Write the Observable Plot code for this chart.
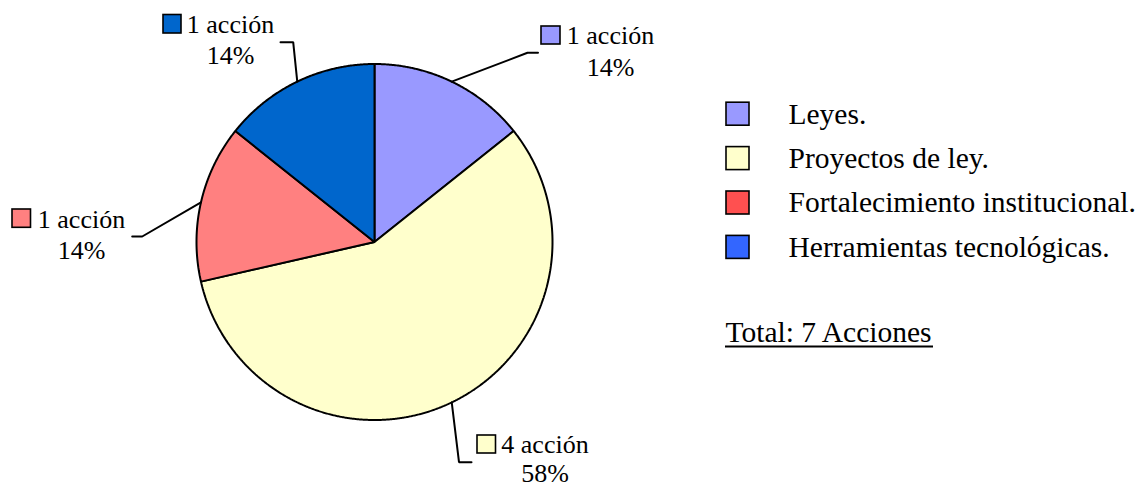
<!DOCTYPE html>
<html>
<head>
<meta charset="utf-8">
<script src="https://cdn.jsdelivr.net/npm/d3@7"></script>
<script src="https://cdn.jsdelivr.net/npm/@observablehq/plot@0.6"></script>
<style>
  html, body { margin: 0; padding: 0; background: #fff; }
  #chart { width: 1136px; height: 488px; }
</style>
</head>
<body>
<div id="chart"></div>
<script>
// ---- data ----
const categories = ["Leyes.", "Proyectos de ley.", "Fortalecimiento institucional.", "Herramientas tecnológicas."];
const values = [1, 4, 1, 1];
const countLabels = ["1 acción", "4 acción", "1 acción", "1 acción"];
const percentLabels = ["14%", "58%", "14%", "14%"];
const sliceColors = ["#9999FF", "#FFFFCC", "#FF8080", "#0066CC"];
const legendColors = ["#9999FF", "#FFFFCC", "#FF5050", "#3366FF"];
const totalLabel = "Total: 7 Acciones";

// ---- layout ----
const W = 1136, H = 488;
const cx = 374, cy = 241.5, R = 178;
const serif = "'Liberation Serif', 'Times New Roman', serif";
// per-slice label layout: text centre x, first baseline, square box, leader elbow & end
const labelLayout = [
  {tx: 610, ty: 43.5, sq: [541, 26, 560, 44], elbow: [527, 52.3], end: [537.5, 52.3]},
  {tx: 544.5, ty: 452.2, sq: [477, 435, 495.5, 453], elbow: [458.5, 461.7], end: [471, 461.7]},
  {tx: 81, ty: 227.3, sq: [12, 209, 30.5, 227.3], elbow: [141.7, 236], end: [131.7, 236]},
  {tx: 230, ty: 32, sq: [163, 14.5, 181, 33], elbow: [292.7, 41.7], end: [280, 41.7]}
];
const lineGap = 31.5;
const labelFont = 26, legendFont = 29.5;
const maxBaseline = 481.8; // keep the last line inside the picture
const legendX = 726, legendTextX = 788, legendY0 = 113.7, legendStep = 44.4, legendSq = 23;

// ---- derived geometry ----
const arcs = d3.pie().sort(null).value(d => d)(values);
const pt = (a, r) => [cx + r * Math.sin(a), cy - r * Math.cos(a)];

const slicePts = arcs.flatMap((a, i) => {
  const pts = [{x: cx, y: cy, i}];
  const n = Math.max(2, Math.ceil((a.endAngle - a.startAngle) / 0.005));
  for (let k = 0; k <= n; ++k) {
    const [x, y] = pt(a.startAngle + (a.endAngle - a.startAngle) * k / n, R);
    pts.push({x, y, i});
  }
  return pts;
});

const leaderPts = arcs.flatMap((a, i) => {
  const [x0, y0] = pt((a.startAngle + a.endAngle) / 2, R);
  const L = labelLayout[i];
  return [
    {x: x0, y: y0, i},
    {x: L.elbow[0], y: L.elbow[1], i},
    {x: L.end[0], y: L.end[1], i}
  ];
});

const labelRows = categories.map((c, i) => ({
  i, count: countLabels[i], pct: percentLabels[i], color: sliceColors[i], ...labelLayout[i]
}));

const legendRows = categories.map((c, i) => ({
  i, name: c, color: legendColors[i], y: legendY0 + i * legendStep
}));

const chart = Plot.plot({
  width: W, height: H,
  margin: 0,
  x: {domain: [0, W], range: [0, W], axis: null},
  y: {domain: [0, H], range: [0, H], axis: null},
  color: {type: "identity"},
  style: {fontFamily: serif, background: "#fff", overflow: "visible"},
  marks: [
    // pie slices
    Plot.line(slicePts, {x: "x", y: "y", z: "i", fill: d => sliceColors[d.i], stroke: "#000", strokeWidth: 2, curve: "linear-closed", strokeLinejoin: "miter"}),
    // leader lines
    Plot.line(leaderPts, {x: "x", y: "y", z: "i", stroke: "#000", strokeWidth: 2, strokeLinejoin: "miter"}),
    // label swatches
    Plot.rect(labelRows, {x1: d => d.sq[0], x2: d => d.sq[2], y1: d => d.sq[1], y2: d => d.sq[3], fill: "color", stroke: "#000", strokeWidth: 1.6}),
    // label text
    Plot.text(labelRows, {x: "tx", y: "ty", text: "count", fontSize: labelFont, lineAnchor: "bottom", textAnchor: "middle", fill: "#000", fontFamily: serif}),
    Plot.text(labelRows, {x: "tx", y: d => Math.min(d.ty + lineGap, maxBaseline), text: "pct", fontSize: labelFont, lineAnchor: "bottom", textAnchor: "middle", fill: "#000", fontFamily: serif}),
    // legend
    Plot.rect(legendRows, {x1: legendX, x2: legendX + legendSq, y1: d => d.y - legendSq / 2, y2: d => d.y + legendSq / 2, fill: "color", stroke: "#000", strokeWidth: 1.6}),
    Plot.text(legendRows, {x: legendTextX, y: d => d.y, text: "name", fontSize: legendFont, textAnchor: "start", lineAnchor: "middle", fill: "#000", fontFamily: serif}),
    // total
    Plot.text([totalLabel], {x: 725, y: 341.7, text: d => d, fontSize: legendFont, textAnchor: "start", lineAnchor: "bottom", fill: "#000", fontFamily: serif}),
    Plot.ruleY([346], {x1: 725, x2: 933, stroke: "#000", strokeWidth: 2})
  ]
});

document.getElementById("chart").appendChild(chart);
</script>
</body>
</html>
